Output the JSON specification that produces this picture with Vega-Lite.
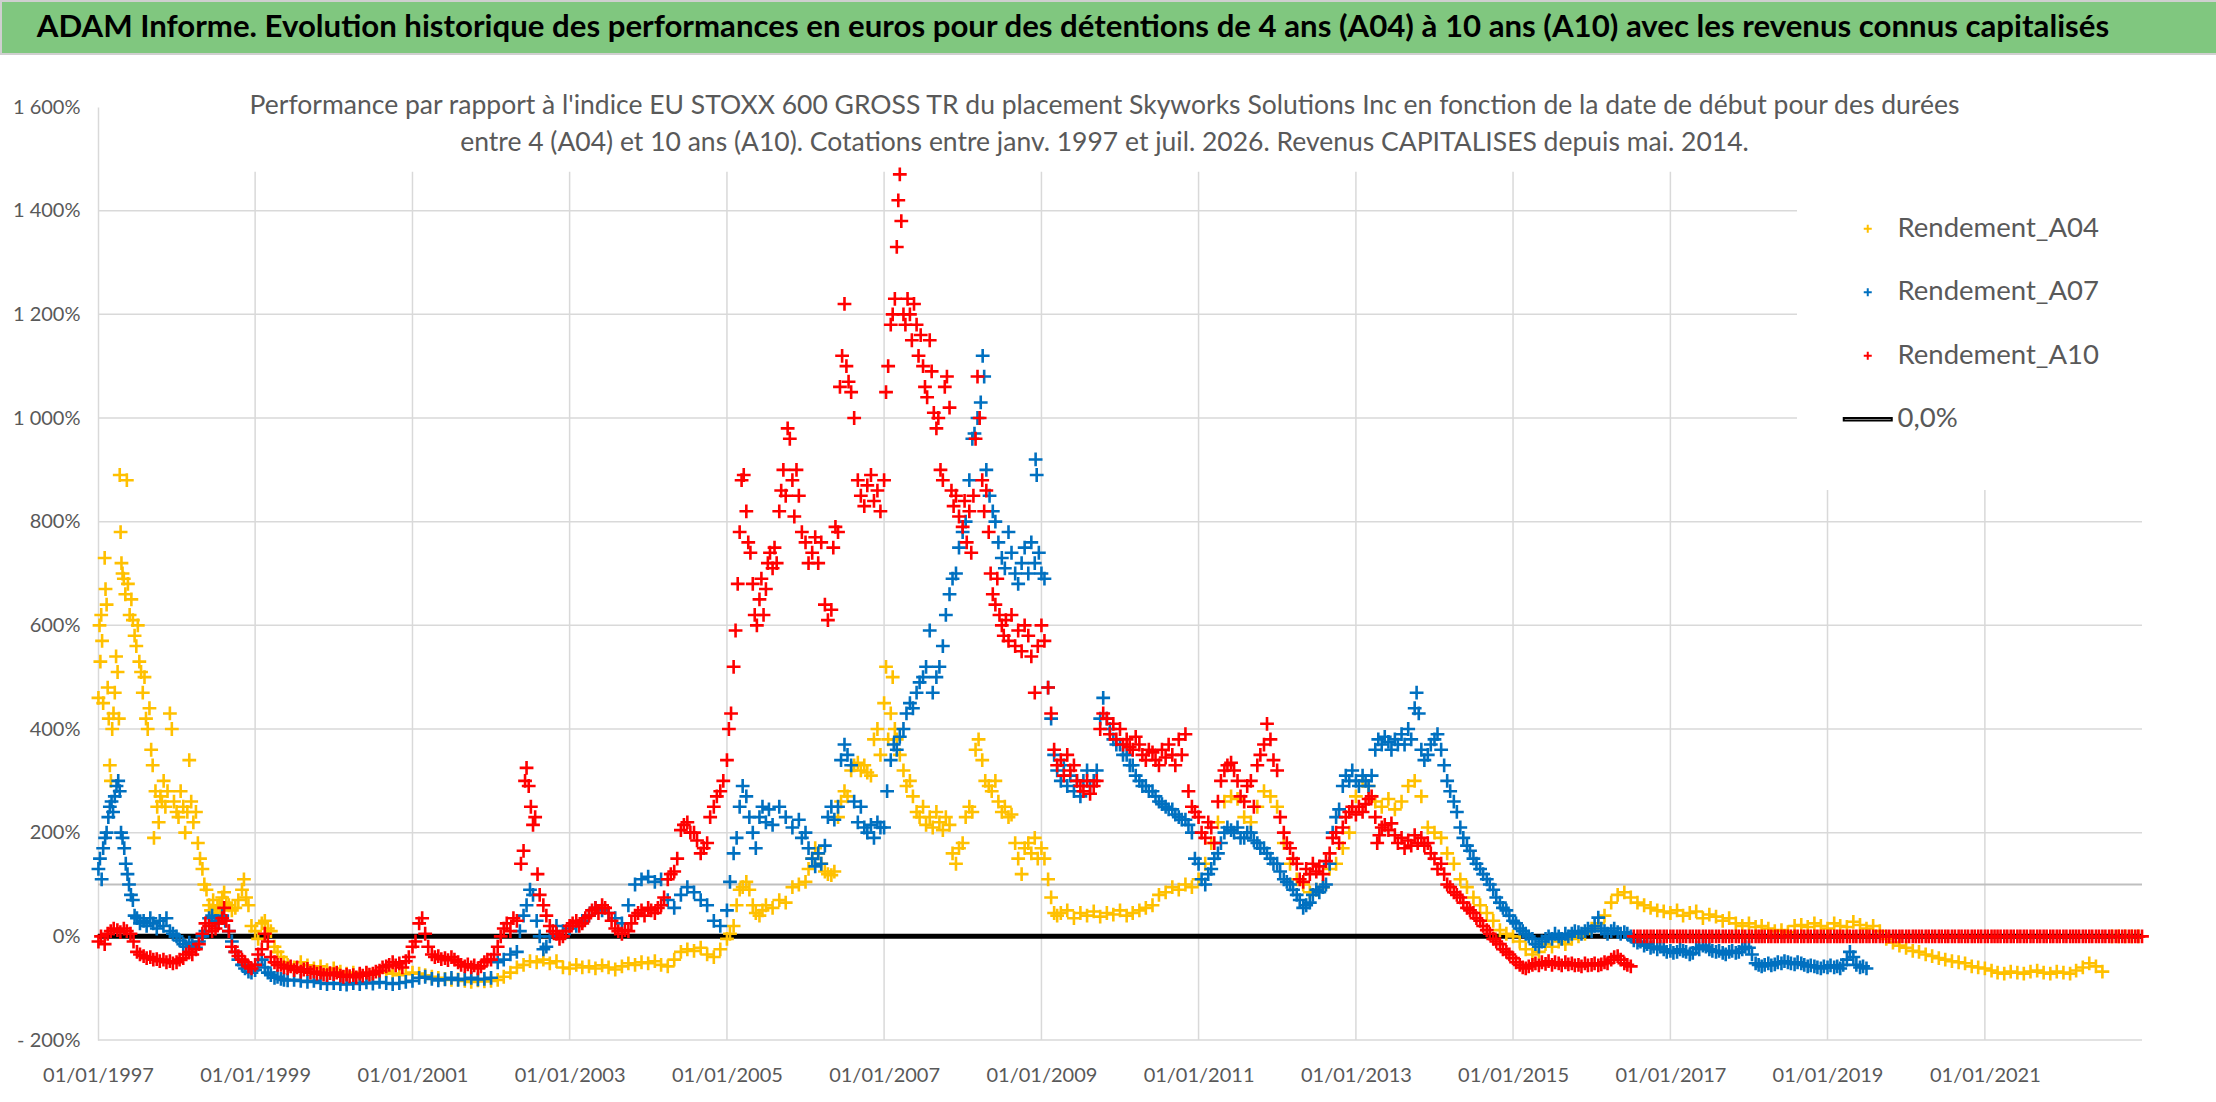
{
"$schema":"https://vega.github.io/schema/vega-lite/v6.json",
"padding":0,
"background":"#FFFFFF",
"config":{"view":{"stroke":null},"font":"Lato"},
"datasets":{
"hg":[{"y":-200},{"y":0},{"y":200},{"y":400},{"y":600},{"y":800},{"y":1000},{"y":1200},{"y":1400}],
"vg":[{"g":"1999-01-01"},{"g":"2001-01-01"},{"g":"2003-01-01"},{"g":"2005-01-01"},{"g":"2007-01-01"},{"g":"2009-01-01"},{"g":"2011-01-01"},{"g":"2013-01-01"},{"g":"2015-01-01"},{"g":"2017-01-01"},{"g":"2019-01-01"},{"g":"2021-01-01"}],
"a04":[
{"d":"1997-01-03","v":460},{"d":"1997-01-08","v":600},{"d":"1997-01-12","v":530},{"d":"1997-01-16","v":620},{"d":"1997-01-20","v":570},{"d":"1997-01-25","v":450},{"d":"1997-02-01","v":730},{"d":"1997-02-05","v":670},{"d":"1997-02-10","v":640},{"d":"1997-02-15","v":480},{"d":"1997-02-20","v":420},{"d":"1997-02-25","v":330},{"d":"1997-03-02","v":300},{"d":"1997-03-08","v":400},{"d":"1997-03-14","v":430},{"d":"1997-03-20","v":470},{"d":"1997-03-26","v":540},{"d":"1997-04-02","v":510},{"d":"1997-04-08","v":420},{"d":"1997-04-12","v":890},{"d":"1997-04-16","v":780},{"d":"1997-04-20","v":720},{"d":"1997-04-25","v":700},{"d":"1997-05-01","v":690},{"d":"1997-05-08","v":660},{"d":"1997-05-15","v":880},{"d":"1997-05-20","v":680},{"d":"1997-05-28","v":620},{"d":"1997-06-05","v":650},{"d":"1997-06-12","v":610},{"d":"1997-06-20","v":580},{"d":"1997-06-28","v":560},{"d":"1997-07-05","v":600},{"d":"1997-07-12","v":530},{"d":"1997-07-20","v":510},{"d":"1997-07-28","v":470},{"d":"1997-08-05","v":500},{"d":"1997-08-12","v":420},{"d":"1997-08-20","v":400},{"d":"1997-08-28","v":440},{"d":"1997-09-05","v":360},{"d":"1997-09-12","v":330},{"d":"1997-09-18","v":190},{"d":"1997-09-25","v":280},{"d":"1997-10-03","v":250},{"d":"1997-10-10","v":220},{"d":"1997-10-18","v":270},{"d":"1997-10-25","v":260},{"d":"1997-11-02","v":300},{"d":"1997-11-10","v":250},{"d":"1997-11-20","v":280},{"d":"1997-12-01","v":430},{"d":"1997-12-10","v":400},{"d":"1997-12-20","v":260},
{"d":"1998-01-01","v":240},{"d":"1998-01-10","v":230},{"d":"1998-01-20","v":280},{"d":"1998-02-01","v":250},{"d":"1998-02-10","v":200},{"d":"1998-02-20","v":240},{"d":"1998-03-01","v":340},{"d":"1998-03-10","v":260},{"d":"1998-03-20","v":220},{"d":"1998-04-01","v":240},{"d":"1998-04-10","v":180},{"d":"1998-04-20","v":150},{"d":"1998-05-01","v":130},{"d":"1998-05-10","v":100},{"d":"1998-05-20","v":90},{"d":"1998-06-01","v":60},{"d":"1998-06-10","v":50},{"d":"1998-06-20","v":70},{"d":"1998-07-01","v":45},{"d":"1998-07-10","v":55},{"d":"1998-07-20","v":60},{"d":"1998-08-01","v":75},{"d":"1998-08-10","v":85},{"d":"1998-08-20","v":65},{"d":"1998-09-01","v":60},{"d":"1998-09-15","v":50},{"d":"1998-10-01","v":55},{"d":"1998-10-15","v":70},{"d":"1998-11-01","v":90},{"d":"1998-11-10","v":110},{"d":"1998-11-20","v":75},{"d":"1998-12-01","v":60},{"d":"1998-12-15","v":20},
{"d":"1999-01-01","v":10},{"d":"1999-01-15","v":-5},{"d":"1999-02-01","v":25},{"d":"1999-02-15","v":30},{"d":"1999-03-01","v":15},{"d":"1999-03-15","v":10},{"d":"1999-04-01","v":-20},{"d":"1999-04-15","v":-30},{"d":"1999-05-01","v":-40},{"d":"1999-05-15","v":-50},{"d":"1999-06-01","v":-55},{"d":"1999-07-01","v":-60},{"d":"1999-08-01","v":-50},{"d":"1999-09-01","v":-56},{"d":"1999-10-01","v":-62},{"d":"1999-11-01","v":-58},{"d":"1999-12-01","v":-65},
{"d":"2000-01-01","v":-62},{"d":"2000-02-01","v":-68},{"d":"2000-03-01","v":-72},{"d":"2000-04-01","v":-70},{"d":"2000-05-01","v":-75},{"d":"2000-06-01","v":-72},{"d":"2000-07-01","v":-74},{"d":"2000-08-01","v":-70},{"d":"2000-09-01","v":-68},{"d":"2000-10-01","v":-72},{"d":"2000-11-01","v":-75},{"d":"2000-12-01","v":-73},
{"d":"2001-01-01","v":-70},{"d":"2001-02-01","v":-72},{"d":"2001-03-01","v":-75},{"d":"2001-04-01","v":-78},{"d":"2001-05-01","v":-80},{"d":"2001-06-01","v":-82},{"d":"2001-07-01","v":-84},{"d":"2001-08-01","v":-83},{"d":"2001-09-01","v":-86},{"d":"2001-10-01","v":-88},{"d":"2001-11-01","v":-85},{"d":"2001-12-01","v":-87},
{"d":"2002-01-01","v":-86},{"d":"2002-02-01","v":-84},{"d":"2002-03-01","v":-78},{"d":"2002-04-01","v":-70},{"d":"2002-05-01","v":-60},{"d":"2002-06-01","v":-55},{"d":"2002-07-01","v":-48},{"d":"2002-08-01","v":-50},{"d":"2002-09-01","v":-45},{"d":"2002-10-01","v":-52},{"d":"2002-11-01","v":-48},{"d":"2002-12-01","v":-60},
{"d":"2003-01-01","v":-62},{"d":"2003-02-01","v":-55},{"d":"2003-03-01","v":-60},{"d":"2003-04-01","v":-58},{"d":"2003-05-01","v":-62},{"d":"2003-06-01","v":-56},{"d":"2003-07-01","v":-60},{"d":"2003-08-01","v":-64},{"d":"2003-09-01","v":-58},{"d":"2003-10-01","v":-52},{"d":"2003-11-01","v":-55},{"d":"2003-12-01","v":-50},
{"d":"2004-01-01","v":-52},{"d":"2004-02-01","v":-48},{"d":"2004-03-01","v":-55},{"d":"2004-04-01","v":-58},{"d":"2004-05-01","v":-45},{"d":"2004-06-01","v":-30},{"d":"2004-07-01","v":-25},{"d":"2004-08-01","v":-28},{"d":"2004-09-01","v":-22},{"d":"2004-10-01","v":-35},{"d":"2004-11-01","v":-40},{"d":"2004-12-01","v":-25},
{"d":"2005-01-01","v":-5},{"d":"2005-01-15","v":5},{"d":"2005-02-01","v":20},{"d":"2005-02-15","v":60},{"d":"2005-03-01","v":90},{"d":"2005-03-15","v":95},{"d":"2005-04-01","v":105},{"d":"2005-04-15","v":90},{"d":"2005-05-01","v":60},{"d":"2005-05-15","v":45},{"d":"2005-06-01","v":40},{"d":"2005-06-15","v":50},{"d":"2005-07-01","v":60},{"d":"2005-08-01","v":55},{"d":"2005-09-01","v":70},{"d":"2005-10-01","v":65},{"d":"2005-11-01","v":95},{"d":"2005-12-01","v":100},
{"d":"2006-01-01","v":105},{"d":"2006-01-15","v":130},{"d":"2006-02-01","v":150},{"d":"2006-02-15","v":170},{"d":"2006-03-01","v":160},{"d":"2006-03-15","v":140},{"d":"2006-04-01","v":125},{"d":"2006-04-15","v":120},{"d":"2006-05-01","v":118},{"d":"2006-05-15","v":125},{"d":"2006-06-01","v":230},{"d":"2006-06-15","v":260},{"d":"2006-07-01","v":280},{"d":"2006-07-15","v":270},{"d":"2006-08-01","v":320},{"d":"2006-08-15","v":330},{"d":"2006-09-01","v":335},{"d":"2006-09-15","v":320},{"d":"2006-10-01","v":330},{"d":"2006-10-15","v":316},{"d":"2006-11-01","v":310},{"d":"2006-11-15","v":380},{"d":"2006-12-01","v":400},{"d":"2006-12-15","v":350},
{"d":"2007-01-01","v":450},{"d":"2007-01-10","v":520},{"d":"2007-01-20","v":380},{"d":"2007-02-01","v":430},{"d":"2007-02-10","v":500},{"d":"2007-02-20","v":400},{"d":"2007-03-01","v":380},{"d":"2007-03-15","v":350},{"d":"2007-04-01","v":320},{"d":"2007-04-15","v":290},{"d":"2007-05-01","v":300},{"d":"2007-05-15","v":270},{"d":"2007-06-01","v":240},{"d":"2007-06-15","v":230},{"d":"2007-07-01","v":250},{"d":"2007-07-15","v":215},{"d":"2007-08-01","v":230},{"d":"2007-08-15","v":210},{"d":"2007-09-01","v":240},{"d":"2007-09-15","v":220},{"d":"2007-10-01","v":205},{"d":"2007-10-15","v":230},{"d":"2007-11-01","v":215},{"d":"2007-11-15","v":160},{"d":"2007-12-01","v":140},{"d":"2007-12-15","v":170},
{"d":"2008-01-01","v":180},{"d":"2008-01-15","v":230},{"d":"2008-02-01","v":250},{"d":"2008-02-15","v":240},{"d":"2008-03-01","v":360},{"d":"2008-03-15","v":380},{"d":"2008-04-01","v":340},{"d":"2008-04-15","v":300},{"d":"2008-05-01","v":290},{"d":"2008-05-15","v":280},{"d":"2008-06-01","v":300},{"d":"2008-06-15","v":260},{"d":"2008-07-01","v":240},{"d":"2008-07-15","v":250},{"d":"2008-08-01","v":230},{"d":"2008-08-15","v":235},{"d":"2008-09-01","v":180},{"d":"2008-09-15","v":150},{"d":"2008-10-01","v":120},{"d":"2008-10-15","v":170},{"d":"2008-11-01","v":180},{"d":"2008-11-15","v":160},{"d":"2008-12-01","v":190},{"d":"2008-12-15","v":150},
{"d":"2009-01-01","v":170},{"d":"2009-01-15","v":150},{"d":"2009-02-01","v":110},{"d":"2009-02-15","v":75},{"d":"2009-03-01","v":45},{"d":"2009-03-15","v":40},{"d":"2009-04-01","v":45},{"d":"2009-05-01","v":50},{"d":"2009-06-01","v":35},{"d":"2009-07-01","v":45},{"d":"2009-08-01","v":40},{"d":"2009-09-01","v":48},{"d":"2009-10-01","v":38},{"d":"2009-11-01","v":45},{"d":"2009-12-01","v":42},
{"d":"2010-01-01","v":50},{"d":"2010-02-01","v":40},{"d":"2010-03-01","v":45},{"d":"2010-04-01","v":50},{"d":"2010-05-01","v":55},{"d":"2010-06-01","v":60},{"d":"2010-07-01","v":80},{"d":"2010-08-01","v":85},{"d":"2010-09-01","v":95},{"d":"2010-10-01","v":90},{"d":"2010-11-01","v":100},{"d":"2010-12-01","v":95},
{"d":"2011-01-01","v":110},{"d":"2011-02-01","v":140},{"d":"2011-03-01","v":180},{"d":"2011-04-01","v":220},{"d":"2011-05-01","v":260},{"d":"2011-06-01","v":270},{"d":"2011-07-01","v":265},{"d":"2011-08-01","v":230},{"d":"2011-09-01","v":220},{"d":"2011-10-01","v":250},{"d":"2011-11-01","v":280},{"d":"2011-12-01","v":270},
{"d":"2012-01-01","v":250},{"d":"2012-02-01","v":180},{"d":"2012-03-01","v":140},{"d":"2012-04-01","v":110},{"d":"2012-05-01","v":100},{"d":"2012-06-01","v":85},{"d":"2012-07-01","v":90},{"d":"2012-08-01","v":95},{"d":"2012-09-01","v":130},{"d":"2012-10-01","v":140},{"d":"2012-11-01","v":170},{"d":"2012-12-01","v":200},
{"d":"2013-01-01","v":270},{"d":"2013-02-01","v":300},{"d":"2013-03-01","v":290},{"d":"2013-04-01","v":260},{"d":"2013-05-01","v":250},{"d":"2013-06-01","v":265},{"d":"2013-07-01","v":245},{"d":"2013-08-01","v":260},{"d":"2013-09-01","v":290},{"d":"2013-10-01","v":300},{"d":"2013-11-01","v":270},{"d":"2013-12-01","v":210},
{"d":"2014-01-01","v":200},{"d":"2014-02-01","v":190},{"d":"2014-03-01","v":160},{"d":"2014-04-01","v":140},{"d":"2014-05-01","v":110},{"d":"2014-06-01","v":95},{"d":"2014-07-01","v":75},{"d":"2014-08-01","v":60},{"d":"2014-09-01","v":45},{"d":"2014-10-01","v":30},{"d":"2014-11-01","v":12},{"d":"2014-12-01","v":5},
{"d":"2015-01-01","v":0},{"d":"2015-02-01","v":-10},{"d":"2015-03-01","v":-25},{"d":"2015-04-01","v":-35},{"d":"2015-05-01","v":-30},{"d":"2015-06-01","v":-15},{"d":"2015-07-01","v":-20},{"d":"2015-08-01","v":-10},{"d":"2015-09-01","v":-15},{"d":"2015-10-01","v":-5},{"d":"2015-11-01","v":0},{"d":"2015-12-01","v":5},
{"d":"2016-01-01","v":15},{"d":"2016-02-01","v":25},{"d":"2016-03-01","v":40},{"d":"2016-04-01","v":65},{"d":"2016-05-01","v":80},{"d":"2016-06-01","v":85},{"d":"2016-07-01","v":75},{"d":"2016-08-01","v":65},{"d":"2016-09-01","v":60},{"d":"2016-10-01","v":55},{"d":"2016-11-01","v":50},{"d":"2016-12-01","v":48},
{"d":"2017-01-01","v":45},{"d":"2017-02-01","v":50},{"d":"2017-03-01","v":40},{"d":"2017-04-01","v":45},{"d":"2017-05-01","v":48},{"d":"2017-06-01","v":35},{"d":"2017-07-01","v":42},{"d":"2017-08-01","v":38},{"d":"2017-09-01","v":30},{"d":"2017-10-01","v":35},{"d":"2017-11-01","v":25},{"d":"2017-12-01","v":20},
{"d":"2018-01-01","v":25},{"d":"2018-02-01","v":18},{"d":"2018-03-01","v":20},{"d":"2018-04-01","v":15},{"d":"2018-05-01","v":10},{"d":"2018-06-01","v":12},{"d":"2018-07-01","v":8},{"d":"2018-08-01","v":20},{"d":"2018-09-01","v":22},{"d":"2018-10-01","v":18},{"d":"2018-11-01","v":25},{"d":"2018-12-01","v":20},
{"d":"2019-01-01","v":15},{"d":"2019-02-01","v":25},{"d":"2019-03-01","v":20},{"d":"2019-04-01","v":18},{"d":"2019-05-01","v":28},{"d":"2019-06-01","v":22},{"d":"2019-07-01","v":15},{"d":"2019-08-01","v":20},{"d":"2019-09-01","v":10},{"d":"2019-10-01","v":-5},{"d":"2019-11-01","v":-12},{"d":"2019-12-01","v":-18},
{"d":"2020-01-01","v":-22},{"d":"2020-02-01","v":-28},{"d":"2020-03-01","v":-30},{"d":"2020-04-01","v":-35},{"d":"2020-05-01","v":-38},{"d":"2020-06-01","v":-42},{"d":"2020-07-01","v":-45},{"d":"2020-08-01","v":-48},{"d":"2020-09-01","v":-50},{"d":"2020-10-01","v":-52},{"d":"2020-11-01","v":-58},{"d":"2020-12-01","v":-60},
{"d":"2021-01-01","v":-62},{"d":"2021-02-01","v":-66},{"d":"2021-03-01","v":-70},{"d":"2021-04-01","v":-72},{"d":"2021-05-01","v":-68},{"d":"2021-06-01","v":-70},{"d":"2021-07-01","v":-72},{"d":"2021-08-01","v":-68},{"d":"2021-09-01","v":-66},{"d":"2021-10-01","v":-70},{"d":"2021-11-01","v":-72},{"d":"2021-12-01","v":-68},
{"d":"2022-01-01","v":-70},{"d":"2022-02-01","v":-72},{"d":"2022-03-01","v":-66},{"d":"2022-04-01","v":-60},{"d":"2022-05-01","v":-52},{"d":"2022-06-01","v":-58},{"d":"2022-07-01","v":-68},
{"d":"2022-08-15","v":0},{"d":"2022-09-15","v":0},{"d":"2022-10-15","v":0},{"d":"2022-11-15","v":0},{"d":"2022-12-15","v":0}
],
"a07":[
{"d":"1997-01-03","v":130},{"d":"1997-01-10","v":150},{"d":"1997-01-18","v":110},{"d":"1997-01-25","v":170},{"d":"1997-02-03","v":190},{"d":"1997-02-10","v":200},{"d":"1997-02-18","v":230},{"d":"1997-02-25","v":250},{"d":"1997-03-05","v":260},{"d":"1997-03-12","v":240},{"d":"1997-03-20","v":270},{"d":"1997-03-28","v":290},{"d":"1997-04-05","v":300},{"d":"1997-04-12","v":280},{"d":"1997-04-18","v":200},{"d":"1997-04-25","v":190},{"d":"1997-05-03","v":170},{"d":"1997-05-10","v":140},{"d":"1997-05-18","v":120},{"d":"1997-05-25","v":100},{"d":"1997-06-03","v":80},{"d":"1997-06-12","v":70},{"d":"1997-06-20","v":40},{"d":"1997-07-01","v":35},{"d":"1997-07-15","v":25},{"d":"1997-08-01","v":30},{"d":"1997-08-15","v":20},{"d":"1997-09-01","v":35},{"d":"1997-09-15","v":25},{"d":"1997-10-01","v":15},{"d":"1997-10-15","v":30},{"d":"1997-11-01","v":20},{"d":"1997-11-15","v":35},{"d":"1997-12-01","v":10},{"d":"1997-12-15","v":5},
{"d":"1998-01-01","v":0},{"d":"1998-01-15","v":-8},{"d":"1998-02-01","v":-15},{"d":"1998-02-15","v":-20},{"d":"1998-03-01","v":-12},{"d":"1998-03-15","v":-18},{"d":"1998-04-01","v":-22},{"d":"1998-04-15","v":-10},{"d":"1998-05-01","v":0},{"d":"1998-05-15","v":10},{"d":"1998-06-01","v":35},{"d":"1998-06-15","v":40},{"d":"1998-07-01","v":30},{"d":"1998-07-15","v":25},{"d":"1998-08-01","v":40},{"d":"1998-08-15","v":30},{"d":"1998-09-01","v":10},{"d":"1998-09-15","v":-10},{"d":"1998-10-01","v":-30},{"d":"1998-10-15","v":-45},{"d":"1998-11-01","v":-55},{"d":"1998-11-15","v":-62},{"d":"1998-12-01","v":-68},{"d":"1998-12-15","v":-70},
{"d":"1999-01-01","v":-65},{"d":"1999-01-15","v":-55},{"d":"1999-02-01","v":-45},{"d":"1999-02-15","v":-60},{"d":"1999-03-01","v":-70},{"d":"1999-03-15","v":-75},{"d":"1999-04-01","v":-80},{"d":"1999-04-15","v":-78},{"d":"1999-05-01","v":-82},{"d":"1999-05-15","v":-84},{"d":"1999-06-01","v":-85},{"d":"1999-07-01","v":-84},{"d":"1999-08-01","v":-86},{"d":"1999-09-01","v":-88},{"d":"1999-10-01","v":-86},{"d":"1999-11-01","v":-90},{"d":"1999-12-01","v":-92},
{"d":"2000-01-01","v":-90},{"d":"2000-02-01","v":-92},{"d":"2000-03-01","v":-93},{"d":"2000-04-01","v":-90},{"d":"2000-05-01","v":-92},{"d":"2000-06-01","v":-89},{"d":"2000-07-01","v":-91},{"d":"2000-08-01","v":-88},{"d":"2000-09-01","v":-90},{"d":"2000-10-01","v":-92},{"d":"2000-11-01","v":-90},{"d":"2000-12-01","v":-88},
{"d":"2001-01-01","v":-86},{"d":"2001-02-01","v":-80},{"d":"2001-03-01","v":-78},{"d":"2001-04-01","v":-82},{"d":"2001-05-01","v":-85},{"d":"2001-06-01","v":-83},{"d":"2001-07-01","v":-80},{"d":"2001-08-01","v":-84},{"d":"2001-09-01","v":-82},{"d":"2001-10-01","v":-80},{"d":"2001-11-01","v":-83},{"d":"2001-12-01","v":-82},
{"d":"2002-01-01","v":-80},{"d":"2002-02-01","v":-50},{"d":"2002-03-01","v":-45},{"d":"2002-04-01","v":-35},{"d":"2002-05-01","v":-30},{"d":"2002-05-15","v":10},{"d":"2002-06-01","v":40},{"d":"2002-06-15","v":60},{"d":"2002-07-01","v":90},{"d":"2002-07-15","v":80},{"d":"2002-08-01","v":30},{"d":"2002-08-15","v":0},{"d":"2002-09-01","v":-25},{"d":"2002-09-15","v":-20},{"d":"2002-10-01","v":0},{"d":"2002-11-01","v":20},{"d":"2002-12-01","v":10},
{"d":"2003-01-01","v":15},{"d":"2003-02-01","v":20},{"d":"2003-03-01","v":30},{"d":"2003-04-01","v":40},{"d":"2003-05-01","v":55},{"d":"2003-06-01","v":50},{"d":"2003-07-01","v":45},{"d":"2003-08-01","v":35},{"d":"2003-09-01","v":25},{"d":"2003-10-01","v":60},{"d":"2003-11-01","v":100},{"d":"2003-12-01","v":110},
{"d":"2004-01-01","v":115},{"d":"2004-02-01","v":105},{"d":"2004-03-01","v":110},{"d":"2004-04-01","v":70},{"d":"2004-05-01","v":55},{"d":"2004-06-01","v":80},{"d":"2004-07-01","v":95},{"d":"2004-08-01","v":85},{"d":"2004-09-01","v":70},{"d":"2004-10-01","v":60},{"d":"2004-11-01","v":30},{"d":"2004-12-01","v":20},
{"d":"2005-01-01","v":50},{"d":"2005-01-15","v":105},{"d":"2005-02-01","v":160},{"d":"2005-02-15","v":190},{"d":"2005-03-01","v":250},{"d":"2005-03-15","v":290},{"d":"2005-04-01","v":270},{"d":"2005-04-15","v":230},{"d":"2005-05-01","v":200},{"d":"2005-05-15","v":170},{"d":"2005-06-01","v":230},{"d":"2005-06-15","v":250},{"d":"2005-07-01","v":220},{"d":"2005-07-15","v":245},{"d":"2005-08-01","v":215},{"d":"2005-09-01","v":250},{"d":"2005-10-01","v":230},{"d":"2005-11-01","v":210},{"d":"2005-12-01","v":225},{"d":"2005-12-15","v":190},
{"d":"2006-01-01","v":200},{"d":"2006-01-15","v":170},{"d":"2006-02-01","v":150},{"d":"2006-02-15","v":135},{"d":"2006-03-01","v":160},{"d":"2006-03-15","v":140},{"d":"2006-04-01","v":175},{"d":"2006-04-15","v":230},{"d":"2006-05-01","v":250},{"d":"2006-05-15","v":225},{"d":"2006-06-01","v":250},{"d":"2006-06-15","v":340},{"d":"2006-07-01","v":370},{"d":"2006-07-15","v":350},{"d":"2006-08-01","v":330},{"d":"2006-08-15","v":260},{"d":"2006-09-01","v":220},{"d":"2006-09-15","v":250},{"d":"2006-10-01","v":210},{"d":"2006-10-15","v":200},{"d":"2006-11-01","v":215},{"d":"2006-11-15","v":190},{"d":"2006-12-01","v":220},{"d":"2006-12-15","v":210},
{"d":"2007-01-01","v":210},{"d":"2007-01-15","v":280},{"d":"2007-02-01","v":340},{"d":"2007-02-15","v":370},{"d":"2007-03-01","v":360},{"d":"2007-03-15","v":385},{"d":"2007-04-01","v":400},{"d":"2007-04-15","v":430},{"d":"2007-05-01","v":450},{"d":"2007-05-15","v":440},{"d":"2007-06-01","v":470},{"d":"2007-06-15","v":490},{"d":"2007-07-01","v":500},{"d":"2007-07-15","v":520},{"d":"2007-08-01","v":590},{"d":"2007-08-15","v":470},{"d":"2007-09-01","v":500},{"d":"2007-09-15","v":520},{"d":"2007-10-01","v":560},{"d":"2007-10-15","v":620},{"d":"2007-11-01","v":660},{"d":"2007-11-15","v":690},{"d":"2007-12-01","v":700},{"d":"2007-12-15","v":750},
{"d":"2008-01-01","v":780},{"d":"2008-01-15","v":800},{"d":"2008-02-01","v":880},{"d":"2008-02-15","v":960},{"d":"2008-02-25","v":970},{"d":"2008-03-10","v":1000},{"d":"2008-03-25","v":1030},{"d":"2008-04-03","v":1120},{"d":"2008-04-10","v":1080},{"d":"2008-04-20","v":900},{"d":"2008-05-05","v":850},{"d":"2008-05-20","v":820},{"d":"2008-06-01","v":800},{"d":"2008-06-15","v":760},{"d":"2008-07-01","v":730},{"d":"2008-07-15","v":710},{"d":"2008-08-01","v":780},{"d":"2008-08-15","v":740},{"d":"2008-09-01","v":700},{"d":"2008-09-15","v":680},{"d":"2008-10-01","v":720},{"d":"2008-10-15","v":750},{"d":"2008-11-01","v":700},{"d":"2008-11-15","v":760},{"d":"2008-12-01","v":720},{"d":"2008-12-05","v":920},{"d":"2008-12-10","v":890},{"d":"2008-12-20","v":740},
{"d":"2009-01-01","v":700},{"d":"2009-01-15","v":690},{"d":"2009-02-01","v":480},{"d":"2009-02-15","v":420},{"d":"2009-03-01","v":350},{"d":"2009-03-15","v":320},{"d":"2009-04-01","v":300},{"d":"2009-04-15","v":330},{"d":"2009-05-01","v":290},{"d":"2009-05-15","v":310},{"d":"2009-06-01","v":280},{"d":"2009-06-15","v":300},{"d":"2009-07-01","v":270},{"d":"2009-07-15","v":300},{"d":"2009-08-01","v":320},{"d":"2009-08-15","v":290},{"d":"2009-09-01","v":300},{"d":"2009-09-15","v":320},{"d":"2009-10-01","v":420},{"d":"2009-10-15","v":460},{"d":"2009-11-01","v":420},{"d":"2009-11-15","v":400},{"d":"2009-12-01","v":380},{"d":"2009-12-15","v":370},
{"d":"2010-01-01","v":370},{"d":"2010-01-15","v":350},{"d":"2010-02-01","v":350},{"d":"2010-02-15","v":330},{"d":"2010-03-01","v":330},{"d":"2010-03-15","v":310},{"d":"2010-04-01","v":300},{"d":"2010-04-15","v":290},{"d":"2010-05-01","v":290},{"d":"2010-05-15","v":280},{"d":"2010-06-01","v":280},{"d":"2010-06-15","v":270},{"d":"2010-07-01","v":260},{"d":"2010-07-15","v":255},{"d":"2010-08-01","v":250},{"d":"2010-08-15","v":245},{"d":"2010-09-01","v":245},{"d":"2010-09-15","v":235},{"d":"2010-10-01","v":230},{"d":"2010-10-15","v":225},{"d":"2010-11-01","v":225},{"d":"2010-11-15","v":215},{"d":"2010-12-01","v":200},{"d":"2010-12-15","v":150},
{"d":"2011-01-01","v":140},{"d":"2011-01-15","v":110},{"d":"2011-02-01","v":100},{"d":"2011-02-15","v":120},{"d":"2011-03-01","v":130},{"d":"2011-03-15","v":150},{"d":"2011-04-01","v":160},{"d":"2011-04-15","v":180},{"d":"2011-05-01","v":200},{"d":"2011-05-15","v":210},{"d":"2011-06-01","v":205},{"d":"2011-06-15","v":200},{"d":"2011-07-01","v":210},{"d":"2011-07-15","v":190},{"d":"2011-08-01","v":190},{"d":"2011-08-15","v":200},{"d":"2011-09-01","v":200},{"d":"2011-09-15","v":185},{"d":"2011-10-01","v":180},{"d":"2011-10-15","v":170},{"d":"2011-11-01","v":170},{"d":"2011-11-15","v":160},{"d":"2011-12-01","v":150},{"d":"2011-12-15","v":140},
{"d":"2012-01-01","v":140},{"d":"2012-01-15","v":125},{"d":"2012-02-01","v":110},{"d":"2012-02-15","v":105},{"d":"2012-03-01","v":100},{"d":"2012-03-15","v":90},{"d":"2012-04-01","v":80},{"d":"2012-04-15","v":70},{"d":"2012-05-01","v":55},{"d":"2012-05-15","v":60},{"d":"2012-06-01","v":65},{"d":"2012-06-15","v":80},{"d":"2012-07-01","v":90},{"d":"2012-07-15","v":85},{"d":"2012-08-01","v":95},{"d":"2012-08-15","v":100},{"d":"2012-09-01","v":140},{"d":"2012-09-15","v":200},{"d":"2012-10-01","v":230},{"d":"2012-10-15","v":245},{"d":"2012-11-01","v":290},{"d":"2012-11-15","v":310},{"d":"2012-12-01","v":300},{"d":"2012-12-15","v":320},
{"d":"2013-01-01","v":300},{"d":"2013-01-15","v":290},{"d":"2013-02-01","v":310},{"d":"2013-02-15","v":300},{"d":"2013-03-01","v":290},{"d":"2013-03-15","v":310},{"d":"2013-04-01","v":360},{"d":"2013-04-15","v":380},{"d":"2013-05-01","v":370},{"d":"2013-05-15","v":385},{"d":"2013-06-01","v":375},{"d":"2013-06-15","v":360},{"d":"2013-07-01","v":380},{"d":"2013-07-15","v":370},{"d":"2013-08-01","v":390},{"d":"2013-08-15","v":370},{"d":"2013-09-01","v":400},{"d":"2013-09-15","v":380},{"d":"2013-10-01","v":440},{"d":"2013-10-10","v":470},{"d":"2013-10-20","v":430},{"d":"2013-11-01","v":360},{"d":"2013-11-15","v":340},{"d":"2013-12-01","v":350},{"d":"2013-12-15","v":370},
{"d":"2014-01-01","v":380},{"d":"2014-01-15","v":390},{"d":"2014-02-01","v":360},{"d":"2014-02-15","v":330},{"d":"2014-03-01","v":300},{"d":"2014-03-15","v":280},{"d":"2014-04-01","v":260},{"d":"2014-04-15","v":240},{"d":"2014-05-01","v":210},{"d":"2014-05-15","v":190},{"d":"2014-06-01","v":175},{"d":"2014-06-15","v":165},{"d":"2014-07-01","v":150},{"d":"2014-07-15","v":140},{"d":"2014-08-01","v":130},{"d":"2014-08-15","v":120},{"d":"2014-09-01","v":110},{"d":"2014-09-15","v":100},{"d":"2014-10-01","v":90},{"d":"2014-10-15","v":75},{"d":"2014-11-01","v":65},{"d":"2014-11-15","v":55},{"d":"2014-12-01","v":50},{"d":"2014-12-15","v":40},
{"d":"2015-01-01","v":30},{"d":"2015-01-15","v":25},{"d":"2015-02-01","v":15},{"d":"2015-02-15","v":10},{"d":"2015-03-01","v":5},{"d":"2015-03-15","v":0},{"d":"2015-04-01","v":-5},{"d":"2015-04-15","v":-15},{"d":"2015-05-01","v":-20},{"d":"2015-05-15","v":-10},{"d":"2015-06-01","v":-5},{"d":"2015-06-15","v":0},{"d":"2015-07-01","v":-5},{"d":"2015-07-15","v":5},{"d":"2015-08-01","v":0},{"d":"2015-08-15","v":-5},{"d":"2015-09-01","v":5},{"d":"2015-09-15","v":0},{"d":"2015-10-01","v":5},{"d":"2015-10-15","v":10},{"d":"2015-11-01","v":8},{"d":"2015-11-15","v":5},{"d":"2015-12-01","v":10},{"d":"2015-12-15","v":15},
{"d":"2016-01-01","v":10},{"d":"2016-01-15","v":20},{"d":"2016-02-01","v":36},{"d":"2016-02-15","v":15},{"d":"2016-03-01","v":10},{"d":"2016-03-15","v":5},{"d":"2016-04-01","v":10},{"d":"2016-04-15","v":15},{"d":"2016-05-01","v":8},{"d":"2016-05-15","v":5},{"d":"2016-06-01","v":8},{"d":"2016-06-15","v":5},{"d":"2016-07-01","v":0},{"d":"2016-07-15","v":-8},{"d":"2016-08-01","v":-12},{"d":"2016-08-15","v":-10},{"d":"2016-09-01","v":-18},{"d":"2016-09-15","v":-15},{"d":"2016-10-01","v":-22},{"d":"2016-10-15","v":-20},{"d":"2016-11-01","v":-25},{"d":"2016-11-15","v":-20},{"d":"2016-12-01","v":-25},{"d":"2016-12-15","v":-30},
{"d":"2017-01-01","v":-28},{"d":"2017-01-15","v":-32},{"d":"2017-02-01","v":-30},{"d":"2017-02-15","v":-25},{"d":"2017-03-01","v":-28},{"d":"2017-03-15","v":-30},{"d":"2017-04-01","v":-35},{"d":"2017-04-15","v":-32},{"d":"2017-05-01","v":-22},{"d":"2017-05-15","v":-25},{"d":"2017-06-01","v":-18},{"d":"2017-06-15","v":-20},{"d":"2017-07-01","v":-25},{"d":"2017-07-15","v":-28},{"d":"2017-08-01","v":-30},{"d":"2017-08-15","v":-28},{"d":"2017-09-01","v":-32},{"d":"2017-09-15","v":-35},{"d":"2017-10-01","v":-30},{"d":"2017-10-15","v":-28},{"d":"2017-11-01","v":-32},{"d":"2017-11-15","v":-30},{"d":"2017-12-01","v":-25},{"d":"2017-12-15","v":-20},
{"d":"2018-01-01","v":-22},{"d":"2018-01-15","v":-35},{"d":"2018-02-01","v":-52},{"d":"2018-02-15","v":-55},{"d":"2018-03-01","v":-58},{"d":"2018-03-15","v":-55},{"d":"2018-04-01","v":-52},{"d":"2018-04-15","v":-56},{"d":"2018-05-01","v":-54},{"d":"2018-05-15","v":-50},{"d":"2018-06-01","v":-52},{"d":"2018-06-15","v":-48},{"d":"2018-07-01","v":-50},{"d":"2018-07-15","v":-52},{"d":"2018-08-01","v":-54},{"d":"2018-08-15","v":-50},{"d":"2018-09-01","v":-52},{"d":"2018-09-15","v":-55},{"d":"2018-10-01","v":-58},{"d":"2018-10-15","v":-56},{"d":"2018-11-01","v":-58},{"d":"2018-11-15","v":-60},{"d":"2018-12-01","v":-62},{"d":"2018-12-15","v":-58},
{"d":"2019-01-01","v":-60},{"d":"2019-01-15","v":-56},{"d":"2019-02-01","v":-60},{"d":"2019-02-15","v":-58},{"d":"2019-03-01","v":-62},{"d":"2019-03-15","v":-55},{"d":"2019-04-01","v":-45},{"d":"2019-04-15","v":-30},{"d":"2019-05-01","v":-40},{"d":"2019-05-15","v":-55},{"d":"2019-06-01","v":-60},{"d":"2019-06-15","v":-58},{"d":"2019-07-01","v":-62}
],
"a10":[
{"d":"1997-01-03","v":-10},{"d":"1997-01-15","v":0},{"d":"1997-02-01","v":-15},{"d":"1997-02-15","v":5},{"d":"1997-03-01","v":10},{"d":"1997-03-15","v":15},{"d":"1997-04-01","v":12},{"d":"1997-04-15","v":8},{"d":"1997-05-01","v":15},{"d":"1997-05-15","v":10},{"d":"1997-06-01","v":5},{"d":"1997-06-15","v":-10},{"d":"1997-07-01","v":-30},{"d":"1997-07-15","v":-35},{"d":"1997-08-01","v":-38},{"d":"1997-08-15","v":-42},{"d":"1997-09-01","v":-40},{"d":"1997-09-15","v":-45},{"d":"1997-10-01","v":-44},{"d":"1997-10-15","v":-48},{"d":"1997-11-01","v":-45},{"d":"1997-11-15","v":-50},{"d":"1997-12-01","v":-48},{"d":"1997-12-15","v":-52},
{"d":"1998-01-01","v":-50},{"d":"1998-01-15","v":-45},{"d":"1998-02-01","v":-42},{"d":"1998-02-15","v":-35},{"d":"1998-03-01","v":-30},{"d":"1998-03-15","v":-35},{"d":"1998-04-01","v":-25},{"d":"1998-04-15","v":-15},{"d":"1998-05-01","v":5},{"d":"1998-05-15","v":25},{"d":"1998-06-01","v":20},{"d":"1998-06-15","v":10},{"d":"1998-07-01","v":15},{"d":"1998-07-15","v":25},{"d":"1998-08-01","v":35},{"d":"1998-08-10","v":55},{"d":"1998-08-20","v":30},{"d":"1998-09-01","v":10},{"d":"1998-09-15","v":-20},{"d":"1998-10-01","v":-30},{"d":"1998-10-15","v":-38},{"d":"1998-11-01","v":-45},{"d":"1998-11-15","v":-50},{"d":"1998-12-01","v":-58},{"d":"1998-12-15","v":-62},
{"d":"1999-01-01","v":-55},{"d":"1999-01-15","v":-35},{"d":"1999-02-01","v":-25},{"d":"1999-02-15","v":5},{"d":"1999-03-01","v":-10},{"d":"1999-03-15","v":-40},{"d":"1999-04-01","v":-50},{"d":"1999-04-15","v":-55},{"d":"1999-05-01","v":-55},{"d":"1999-05-15","v":-60},{"d":"1999-06-01","v":-62},{"d":"1999-06-15","v":-58},{"d":"1999-07-01","v":-65},{"d":"1999-07-15","v":-60},{"d":"1999-08-01","v":-68},{"d":"1999-08-15","v":-64},{"d":"1999-09-01","v":-63},{"d":"1999-09-15","v":-70},{"d":"1999-10-01","v":-68},{"d":"1999-10-15","v":-72},{"d":"1999-11-01","v":-70},{"d":"1999-11-15","v":-74},{"d":"1999-12-01","v":-75},{"d":"1999-12-15","v":-71},
{"d":"2000-01-01","v":-73},{"d":"2000-01-15","v":-70},{"d":"2000-02-01","v":-76},{"d":"2000-02-15","v":-78},{"d":"2000-03-01","v":-74},{"d":"2000-03-15","v":-77},{"d":"2000-04-01","v":-75},{"d":"2000-04-15","v":-79},{"d":"2000-05-01","v":-72},{"d":"2000-05-15","v":-76},{"d":"2000-06-01","v":-70},{"d":"2000-06-15","v":-74},{"d":"2000-07-01","v":-72},{"d":"2000-07-15","v":-68},{"d":"2000-08-01","v":-66},{"d":"2000-08-15","v":-60},{"d":"2000-09-01","v":-58},{"d":"2000-09-15","v":-55},{"d":"2000-10-01","v":-50},{"d":"2000-10-15","v":-56},{"d":"2000-11-01","v":-52},{"d":"2000-11-15","v":-60},{"d":"2000-12-01","v":-48},{"d":"2000-12-15","v":-40},
{"d":"2001-01-01","v":-20},{"d":"2001-01-15","v":-10},{"d":"2001-02-01","v":25},{"d":"2001-02-15","v":35},{"d":"2001-03-01","v":5},{"d":"2001-03-15","v":-20},{"d":"2001-04-01","v":-35},{"d":"2001-04-15","v":-40},{"d":"2001-05-01","v":-38},{"d":"2001-05-15","v":-44},{"d":"2001-06-01","v":-42},{"d":"2001-06-15","v":-46},{"d":"2001-07-01","v":-40},{"d":"2001-07-15","v":-45},{"d":"2001-08-01","v":-50},{"d":"2001-08-15","v":-55},{"d":"2001-09-01","v":-58},{"d":"2001-09-15","v":-54},{"d":"2001-10-01","v":-60},{"d":"2001-10-15","v":-56},{"d":"2001-11-01","v":-62},{"d":"2001-11-15","v":-58},{"d":"2001-12-01","v":-50},{"d":"2001-12-15","v":-45},
{"d":"2002-01-01","v":-45},{"d":"2002-01-15","v":-35},{"d":"2002-02-01","v":-20},{"d":"2002-02-15","v":0},{"d":"2002-03-01","v":15},{"d":"2002-03-15","v":25},{"d":"2002-04-01","v":10},{"d":"2002-04-15","v":35},{"d":"2002-05-01","v":30},{"d":"2002-05-20","v":140},{"d":"2002-06-01","v":165},{"d":"2002-06-08","v":300},{"d":"2002-06-15","v":325},{"d":"2002-06-25","v":290},{"d":"2002-07-05","v":250},{"d":"2002-07-15","v":215},{"d":"2002-07-25","v":230},{"d":"2002-08-05","v":120},{"d":"2002-08-15","v":80},{"d":"2002-09-01","v":60},{"d":"2002-09-15","v":40},{"d":"2002-10-01","v":20},{"d":"2002-10-15","v":10},{"d":"2002-11-01","v":5},{"d":"2002-11-15","v":-5},{"d":"2002-12-01","v":0},{"d":"2002-12-15","v":10},
{"d":"2003-01-01","v":20},{"d":"2003-01-15","v":25},{"d":"2003-02-01","v":30},{"d":"2003-02-15","v":20},{"d":"2003-03-01","v":25},{"d":"2003-03-15","v":35},{"d":"2003-04-01","v":40},{"d":"2003-04-15","v":50},{"d":"2003-05-01","v":55},{"d":"2003-05-15","v":45},{"d":"2003-06-01","v":60},{"d":"2003-06-15","v":55},{"d":"2003-07-01","v":45},{"d":"2003-07-15","v":30},{"d":"2003-08-01","v":15},{"d":"2003-08-15","v":10},{"d":"2003-09-01","v":5},{"d":"2003-09-15","v":12},{"d":"2003-10-01","v":10},{"d":"2003-10-15","v":25},{"d":"2003-11-01","v":40},{"d":"2003-11-15","v":45},{"d":"2003-12-01","v":50},{"d":"2003-12-15","v":40},
{"d":"2004-01-01","v":55},{"d":"2004-01-15","v":50},{"d":"2004-02-01","v":45},{"d":"2004-02-15","v":55},{"d":"2004-03-01","v":60},{"d":"2004-03-15","v":75},{"d":"2004-04-01","v":110},{"d":"2004-04-15","v":120},{"d":"2004-05-01","v":125},{"d":"2004-05-15","v":150},{"d":"2004-06-01","v":205},{"d":"2004-06-15","v":215},{"d":"2004-07-01","v":220},{"d":"2004-07-15","v":200},{"d":"2004-08-01","v":200},{"d":"2004-08-15","v":185},{"d":"2004-09-01","v":160},{"d":"2004-09-15","v":170},{"d":"2004-10-01","v":180},{"d":"2004-10-15","v":230},{"d":"2004-11-01","v":250},{"d":"2004-11-15","v":270},{"d":"2004-12-01","v":280},{"d":"2004-12-15","v":300},
{"d":"2005-01-01","v":340},{"d":"2005-01-10","v":400},{"d":"2005-01-20","v":430},{"d":"2005-02-01","v":520},{"d":"2005-02-10","v":590},{"d":"2005-02-20","v":680},{"d":"2005-03-01","v":780},{"d":"2005-03-10","v":880},{"d":"2005-03-20","v":890},{"d":"2005-04-01","v":820},{"d":"2005-04-10","v":760},{"d":"2005-04-20","v":740},{"d":"2005-05-01","v":680},{"d":"2005-05-10","v":620},{"d":"2005-05-20","v":600},{"d":"2005-06-01","v":650},{"d":"2005-06-10","v":690},{"d":"2005-06-20","v":620},{"d":"2005-07-01","v":670},{"d":"2005-07-10","v":720},{"d":"2005-07-20","v":740},{"d":"2005-08-01","v":710},{"d":"2005-08-10","v":750},{"d":"2005-08-20","v":720},{"d":"2005-09-01","v":820},{"d":"2005-09-10","v":860},{"d":"2005-09-20","v":900},{"d":"2005-10-01","v":850},{"d":"2005-10-10","v":980},{"d":"2005-10-20","v":960},{"d":"2005-11-01","v":880},{"d":"2005-11-10","v":810},{"d":"2005-11-20","v":900},{"d":"2005-12-01","v":850},{"d":"2005-12-15","v":780},
{"d":"2006-01-01","v":760},{"d":"2006-01-15","v":720},{"d":"2006-02-01","v":740},{"d":"2006-02-15","v":770},{"d":"2006-03-01","v":720},{"d":"2006-03-15","v":760},{"d":"2006-04-01","v":640},{"d":"2006-04-15","v":610},{"d":"2006-05-01","v":630},{"d":"2006-05-10","v":750},{"d":"2006-05-20","v":790},{"d":"2006-06-01","v":780},{"d":"2006-06-10","v":1060},{"d":"2006-06-20","v":1120},{"d":"2006-07-01","v":1220},{"d":"2006-07-10","v":1100},{"d":"2006-07-20","v":1070},{"d":"2006-08-01","v":1050},{"d":"2006-08-15","v":1000},{"d":"2006-09-01","v":880},{"d":"2006-09-15","v":850},{"d":"2006-10-01","v":830},{"d":"2006-10-15","v":870},{"d":"2006-11-01","v":890},{"d":"2006-11-15","v":840},{"d":"2006-12-01","v":860},{"d":"2006-12-15","v":820},
{"d":"2007-01-01","v":880},{"d":"2007-01-10","v":1050},{"d":"2007-01-20","v":1100},{"d":"2007-02-01","v":1180},{"d":"2007-02-10","v":1200},{"d":"2007-02-20","v":1230},{"d":"2007-03-01","v":1330},{"d":"2007-03-08","v":1420},{"d":"2007-03-15","v":1470},{"d":"2007-03-22","v":1380},{"d":"2007-04-01","v":1200},{"d":"2007-04-10","v":1180},{"d":"2007-04-20","v":1230},{"d":"2007-05-01","v":1200},{"d":"2007-05-10","v":1150},{"d":"2007-05-20","v":1220},{"d":"2007-06-01","v":1180},{"d":"2007-06-10","v":1120},{"d":"2007-06-20","v":1160},{"d":"2007-07-01","v":1100},{"d":"2007-07-10","v":1060},{"d":"2007-07-20","v":1040},{"d":"2007-08-01","v":1150},{"d":"2007-08-10","v":1090},{"d":"2007-08-20","v":1010},{"d":"2007-09-01","v":980},{"d":"2007-09-10","v":1000},{"d":"2007-09-20","v":900},{"d":"2007-10-01","v":880},{"d":"2007-10-10","v":1060},{"d":"2007-10-20","v":1080},{"d":"2007-11-01","v":1020},{"d":"2007-11-10","v":860},{"d":"2007-11-20","v":830},{"d":"2007-12-01","v":850},{"d":"2007-12-15","v":810},
{"d":"2008-01-01","v":790},{"d":"2008-01-10","v":840},{"d":"2008-01-20","v":760},{"d":"2008-02-01","v":820},{"d":"2008-02-10","v":740},{"d":"2008-02-20","v":850},{"d":"2008-03-01","v":960},{"d":"2008-03-10","v":1080},{"d":"2008-03-20","v":1000},{"d":"2008-04-01","v":880},{"d":"2008-04-10","v":820},{"d":"2008-04-20","v":860},{"d":"2008-05-01","v":780},{"d":"2008-05-10","v":700},{"d":"2008-05-20","v":660},{"d":"2008-06-01","v":640},{"d":"2008-06-10","v":690},{"d":"2008-06-20","v":620},{"d":"2008-07-01","v":600},{"d":"2008-07-10","v":580},{"d":"2008-07-20","v":610},{"d":"2008-08-01","v":570},{"d":"2008-08-15","v":620},{"d":"2008-09-01","v":560},{"d":"2008-09-15","v":590},{"d":"2008-10-01","v":550},{"d":"2008-10-15","v":600},{"d":"2008-11-01","v":580},{"d":"2008-11-15","v":540},{"d":"2008-12-01","v":470},{"d":"2008-12-15","v":560},
{"d":"2009-01-01","v":600},{"d":"2009-01-15","v":570},{"d":"2009-02-01","v":480},{"d":"2009-02-15","v":430},{"d":"2009-03-01","v":360},{"d":"2009-03-15","v":330},{"d":"2009-04-01","v":340},{"d":"2009-04-15","v":310},{"d":"2009-05-01","v":350},{"d":"2009-05-15","v":320},{"d":"2009-06-01","v":330},{"d":"2009-06-15","v":300},{"d":"2009-07-01","v":290},{"d":"2009-07-15","v":280},{"d":"2009-08-01","v":300},{"d":"2009-08-15","v":275},{"d":"2009-09-01","v":290},{"d":"2009-09-15","v":300},{"d":"2009-10-01","v":400},{"d":"2009-10-15","v":430},{"d":"2009-11-01","v":420},{"d":"2009-11-15","v":390},{"d":"2009-12-01","v":410},{"d":"2009-12-15","v":380},
{"d":"2010-01-01","v":400},{"d":"2010-01-15","v":370},{"d":"2010-02-01","v":380},{"d":"2010-02-15","v":365},{"d":"2010-03-01","v":360},{"d":"2010-03-15","v":385},{"d":"2010-04-01","v":370},{"d":"2010-04-15","v":350},{"d":"2010-05-01","v":340},{"d":"2010-05-15","v":360},{"d":"2010-06-01","v":355},{"d":"2010-06-15","v":340},{"d":"2010-07-01","v":330},{"d":"2010-07-15","v":360},{"d":"2010-08-01","v":345},{"d":"2010-08-15","v":370},{"d":"2010-09-01","v":350},{"d":"2010-09-15","v":330},{"d":"2010-10-01","v":380},{"d":"2010-10-15","v":350},{"d":"2010-11-01","v":390},{"d":"2010-11-15","v":280},{"d":"2010-12-01","v":250},{"d":"2010-12-15","v":240},
{"d":"2011-01-01","v":230},{"d":"2011-01-15","v":200},{"d":"2011-02-01","v":190},{"d":"2011-02-15","v":220},{"d":"2011-03-01","v":210},{"d":"2011-03-15","v":180},{"d":"2011-04-01","v":260},{"d":"2011-04-15","v":300},{"d":"2011-05-01","v":320},{"d":"2011-05-15","v":330},{"d":"2011-06-01","v":335},{"d":"2011-06-15","v":320},{"d":"2011-07-01","v":300},{"d":"2011-07-15","v":270},{"d":"2011-08-01","v":260},{"d":"2011-08-15","v":290},{"d":"2011-09-01","v":300},{"d":"2011-09-15","v":250},{"d":"2011-10-01","v":330},{"d":"2011-10-15","v":350},{"d":"2011-11-01","v":370},{"d":"2011-11-15","v":410},{"d":"2011-12-01","v":380},{"d":"2011-12-15","v":340},
{"d":"2012-01-01","v":320},{"d":"2012-01-15","v":230},{"d":"2012-02-01","v":200},{"d":"2012-02-15","v":180},{"d":"2012-03-01","v":170},{"d":"2012-03-15","v":150},{"d":"2012-04-01","v":140},{"d":"2012-04-15","v":110},{"d":"2012-05-01","v":105},{"d":"2012-05-15","v":130},{"d":"2012-06-01","v":120},{"d":"2012-06-15","v":140},{"d":"2012-07-01","v":125},{"d":"2012-07-15","v":135},{"d":"2012-08-01","v":120},{"d":"2012-08-15","v":145},{"d":"2012-09-01","v":160},{"d":"2012-09-15","v":190},{"d":"2012-10-01","v":200},{"d":"2012-10-15","v":180},{"d":"2012-11-01","v":210},{"d":"2012-11-15","v":230},{"d":"2012-12-01","v":240},{"d":"2012-12-15","v":250},
{"d":"2013-01-01","v":235},{"d":"2013-01-15","v":250},{"d":"2013-02-01","v":240},{"d":"2013-02-15","v":255},{"d":"2013-03-01","v":265},{"d":"2013-03-15","v":270},{"d":"2013-04-01","v":230},{"d":"2013-04-10","v":180},{"d":"2013-04-20","v":195},{"d":"2013-05-01","v":210},{"d":"2013-05-15","v":215},{"d":"2013-06-01","v":205},{"d":"2013-06-15","v":218},{"d":"2013-07-01","v":195},{"d":"2013-07-15","v":180},{"d":"2013-08-01","v":190},{"d":"2013-08-15","v":170},{"d":"2013-09-01","v":185},{"d":"2013-09-15","v":175},{"d":"2013-10-01","v":195},{"d":"2013-10-15","v":180},{"d":"2013-11-01","v":190},{"d":"2013-11-15","v":175},{"d":"2013-12-01","v":180},{"d":"2013-12-15","v":160},
{"d":"2014-01-01","v":150},{"d":"2014-01-15","v":130},{"d":"2014-02-01","v":140},{"d":"2014-02-15","v":120},{"d":"2014-03-01","v":100},{"d":"2014-03-15","v":95},{"d":"2014-04-01","v":85},{"d":"2014-04-15","v":80},{"d":"2014-05-01","v":75},{"d":"2014-05-15","v":65},{"d":"2014-06-01","v":55},{"d":"2014-06-15","v":50},{"d":"2014-07-01","v":45},{"d":"2014-07-15","v":35},{"d":"2014-08-01","v":30},{"d":"2014-08-15","v":20},{"d":"2014-09-01","v":12},{"d":"2014-09-15","v":5},{"d":"2014-10-01","v":-5},{"d":"2014-10-15","v":-10},{"d":"2014-11-01","v":-15},{"d":"2014-11-15","v":-25},{"d":"2014-12-01","v":-30},{"d":"2014-12-15","v":-35},
{"d":"2015-01-01","v":-42},{"d":"2015-01-15","v":-50},{"d":"2015-02-01","v":-55},{"d":"2015-02-15","v":-60},{"d":"2015-03-01","v":-62},{"d":"2015-03-15","v":-58},{"d":"2015-04-01","v":-55},{"d":"2015-04-15","v":-52},{"d":"2015-05-01","v":-56},{"d":"2015-05-15","v":-50},{"d":"2015-06-01","v":-53},{"d":"2015-06-15","v":-48},{"d":"2015-07-01","v":-55},{"d":"2015-07-15","v":-50},{"d":"2015-08-01","v":-52},{"d":"2015-08-15","v":-56},{"d":"2015-09-01","v":-50},{"d":"2015-09-15","v":-54},{"d":"2015-10-01","v":-52},{"d":"2015-10-15","v":-56},{"d":"2015-11-01","v":-55},{"d":"2015-11-15","v":-58},{"d":"2015-12-01","v":-52},{"d":"2015-12-15","v":-56},
{"d":"2016-01-01","v":-55},{"d":"2016-01-15","v":-52},{"d":"2016-02-01","v":-56},{"d":"2016-02-15","v":-54},{"d":"2016-03-01","v":-50},{"d":"2016-03-15","v":-52},{"d":"2016-04-01","v":-45},{"d":"2016-04-15","v":-40},{"d":"2016-05-01","v":-38},{"d":"2016-05-15","v":-45},{"d":"2016-06-01","v":-52},{"d":"2016-06-15","v":-55},{"d":"2016-07-01","v":-58},
{"d":"2016-07-15","v":0},{"d":"2016-08-01","v":0},{"d":"2016-08-15","v":0},{"d":"2016-09-01","v":0},{"d":"2016-09-15","v":0},{"d":"2016-10-01","v":0},{"d":"2016-10-15","v":0},{"d":"2016-11-01","v":0},{"d":"2016-11-15","v":0},{"d":"2016-12-01","v":0},{"d":"2016-12-15","v":0},
{"d":"2017-01-01","v":0},{"d":"2017-01-15","v":0},{"d":"2017-02-01","v":0},{"d":"2017-02-15","v":0},{"d":"2017-03-01","v":0},{"d":"2017-03-15","v":0},{"d":"2017-04-01","v":0},{"d":"2017-04-15","v":0},{"d":"2017-05-01","v":0},{"d":"2017-05-15","v":0},{"d":"2017-06-01","v":0},{"d":"2017-06-15","v":0},{"d":"2017-07-01","v":0},{"d":"2017-07-15","v":0},{"d":"2017-08-01","v":0},{"d":"2017-08-15","v":0},{"d":"2017-09-01","v":0},{"d":"2017-09-15","v":0},{"d":"2017-10-01","v":0},{"d":"2017-10-15","v":0},{"d":"2017-11-01","v":0},{"d":"2017-11-15","v":0},{"d":"2017-12-01","v":0},{"d":"2017-12-15","v":0},
{"d":"2018-01-01","v":0},{"d":"2018-01-15","v":0},{"d":"2018-02-01","v":0},{"d":"2018-02-15","v":0},{"d":"2018-03-01","v":0},{"d":"2018-03-15","v":0},{"d":"2018-04-01","v":0},{"d":"2018-04-15","v":0},{"d":"2018-05-01","v":0},{"d":"2018-05-15","v":0},{"d":"2018-06-01","v":0},{"d":"2018-06-15","v":0},{"d":"2018-07-01","v":0},{"d":"2018-07-15","v":0},{"d":"2018-08-01","v":0},{"d":"2018-08-15","v":0},{"d":"2018-09-01","v":0},{"d":"2018-09-15","v":0},{"d":"2018-10-01","v":0},{"d":"2018-10-15","v":0},{"d":"2018-11-01","v":0},{"d":"2018-11-15","v":0},{"d":"2018-12-01","v":0},{"d":"2018-12-15","v":0},
{"d":"2019-01-01","v":0},{"d":"2019-01-15","v":0},{"d":"2019-02-01","v":0},{"d":"2019-02-15","v":0},{"d":"2019-03-01","v":0},{"d":"2019-03-15","v":0},{"d":"2019-04-01","v":0},{"d":"2019-04-15","v":0},{"d":"2019-05-01","v":0},{"d":"2019-05-15","v":0},{"d":"2019-06-01","v":0},{"d":"2019-06-15","v":0},{"d":"2019-07-01","v":0},{"d":"2019-07-15","v":0},{"d":"2019-08-01","v":0},{"d":"2019-08-15","v":0},{"d":"2019-09-01","v":0},{"d":"2019-09-15","v":0},{"d":"2019-10-01","v":0},{"d":"2019-10-15","v":0},{"d":"2019-11-01","v":0},{"d":"2019-11-15","v":0},{"d":"2019-12-01","v":0},{"d":"2019-12-15","v":0},
{"d":"2020-01-01","v":0},{"d":"2020-01-15","v":0},{"d":"2020-02-01","v":0},{"d":"2020-02-15","v":0},{"d":"2020-03-01","v":0},{"d":"2020-03-15","v":0},{"d":"2020-04-01","v":0},{"d":"2020-04-15","v":0},{"d":"2020-05-01","v":0},{"d":"2020-05-15","v":0},{"d":"2020-06-01","v":0},{"d":"2020-06-15","v":0},{"d":"2020-07-01","v":0},{"d":"2020-07-15","v":0},{"d":"2020-08-01","v":0},{"d":"2020-08-15","v":0},{"d":"2020-09-01","v":0},{"d":"2020-09-15","v":0},{"d":"2020-10-01","v":0},{"d":"2020-10-15","v":0},{"d":"2020-11-01","v":0},{"d":"2020-11-15","v":0},{"d":"2020-12-01","v":0},{"d":"2020-12-15","v":0},
{"d":"2021-01-01","v":0},{"d":"2021-01-15","v":0},{"d":"2021-02-01","v":0},{"d":"2021-02-15","v":0},{"d":"2021-03-01","v":0},{"d":"2021-03-15","v":0},{"d":"2021-04-01","v":0},{"d":"2021-04-15","v":0},{"d":"2021-05-01","v":0},{"d":"2021-05-15","v":0},{"d":"2021-06-01","v":0},{"d":"2021-06-15","v":0},{"d":"2021-07-01","v":0},{"d":"2021-07-15","v":0},{"d":"2021-08-01","v":0},{"d":"2021-08-15","v":0},{"d":"2021-09-01","v":0},{"d":"2021-09-15","v":0},{"d":"2021-10-01","v":0},{"d":"2021-10-15","v":0},{"d":"2021-11-01","v":0},{"d":"2021-11-15","v":0},{"d":"2021-12-01","v":0},{"d":"2021-12-15","v":0},
{"d":"2022-01-01","v":0},{"d":"2022-01-15","v":0},{"d":"2022-02-01","v":0},{"d":"2022-02-15","v":0},{"d":"2022-03-01","v":0},{"d":"2022-03-15","v":0},{"d":"2022-04-01","v":0},{"d":"2022-04-15","v":0},{"d":"2022-05-01","v":0},{"d":"2022-05-15","v":0},{"d":"2022-06-01","v":0},{"d":"2022-06-15","v":0},{"d":"2022-07-01","v":0},{"d":"2022-07-15","v":0},{"d":"2022-08-01","v":0},{"d":"2022-08-15","v":0},{"d":"2022-09-01","v":0},{"d":"2022-09-15","v":0},{"d":"2022-10-01","v":0},{"d":"2022-10-15","v":0},{"d":"2022-11-01","v":0},{"d":"2022-11-15","v":0},{"d":"2022-12-01","v":0},{"d":"2022-12-15","v":0},{"d":"2023-01-01","v":0}
]
},
"concat":[
{
"width":2216,"height":53,
"view":{"fill":"#80C77F","stroke":"#CFCFCF","strokeWidth":2},
"data":{"values":[{"t":"ADAM Informe. Evolution historique des performances en euros pour des détentions de 4 ans (A04) à 10 ans (A10) avec les revenus connus capitalisés"}]},
"mark":{"type":"text","font":"Lato","fontSize":31.2,"fontWeight":"bold","color":"#000000","dx":-36,"baseline":"middle"},
"encoding":{"text":{"field":"t","type":"nominal"}}
},
{
"width":2141,"height":933,
"title":{"text":["Performance par rapport à l'indice EU STOXX 600 GROSS TR  du placement Skyworks Solutions Inc en fonction de la date de début pour des durées","entre 4 (A04) et 10 ans (A10). Cotations entre janv. 1997 et juil. 2026. Revenus CAPITALISES depuis mai. 2014."],"anchor":"middle","offset":-59,"font":"Lato","fontSize":26.5,"fontWeight":"normal","color":"#595959","lineHeight":37,"dx":33},
"layer":[
{"data":{"name":"hg"},
"mark":{"type":"rule","color":"#D9D9D9","strokeWidth":1.5},
"encoding":{
"y":{"field":"y","type":"quantitative","scale":{"domain":[-200,1600],"nice":false,"zero":false},
"axis":{"title":null,"values":[-200,0,200,400,600,800,1000,1200,1400,1600],"labelExpr":"datum.value < 0 ? '- ' + format(-datum.value,'d') + '%' : (datum.value >= 1000 ? floor(datum.value/1000) + ' ' + format(datum.value % 1000,'03d') + '%' : datum.value + '%')","grid":false,"domain":true,"domainColor":"#D9D9D9","domainWidth":1.5,"ticks":false,"labelPadding":18,"offset":-97,"minExtent":0,"labelFont":"Lato","labelFontSize":20,"labelColor":"#595959"}},
"x":{"datum":{"year":1997,"month":1,"date":1,"utc":true},"type":"temporal","scale":{"type":"utc","domain":[{"year":1997,"month":1,"date":1,"utc":true},{"year":2023,"month":1,"date":1,"utc":true}],"range":[97,2141]},
"axis":{"title":null,"format":"%d/%m/%Y","values":[{"year":1997,"month":1,"date":1,"utc":true},{"year":1999,"month":1,"date":1,"utc":true},{"year":2001,"month":1,"date":1,"utc":true},{"year":2003,"month":1,"date":1,"utc":true},{"year":2005,"month":1,"date":1,"utc":true},{"year":2007,"month":1,"date":1,"utc":true},{"year":2009,"month":1,"date":1,"utc":true},{"year":2011,"month":1,"date":1,"utc":true},{"year":2013,"month":1,"date":1,"utc":true},{"year":2015,"month":1,"date":1,"utc":true},{"year":2017,"month":1,"date":1,"utc":true},{"year":2019,"month":1,"date":1,"utc":true},{"year":2021,"month":1,"date":1,"utc":true}],"grid":false,"domain":false,"ticks":false,"labelPadding":25,"labelFont":"Lato","labelFontSize":20,"labelColor":"#595959","labelOverlap":false,"labelFlush":false}},
"x2":{"datum":{"year":2023,"month":1,"date":1,"utc":true}}}},
{"data":{"name":"vg"},
"mark":{"type":"rule","color":"#D9D9D9","strokeWidth":1.5},
"encoding":{"x":{"field":"g","type":"temporal"},"y":{"datum":-200,"type":"quantitative"},"y2":{"datum":1475}}},
{"data":{"values":[{}]},"mark":{"type":"rule","color":"#BFBFBF","strokeWidth":2},"encoding":{"y":{"datum":100,"type":"quantitative"},"x":{"datum":{"year":1997,"month":1,"date":1,"utc":true},"type":"temporal"},"x2":{"datum":{"year":2023,"month":1,"date":1,"utc":true}}}},
{"data":{"values":[{}]},"mark":{"type":"rule","color":"#000000","strokeWidth":5},"encoding":{"y":{"datum":0,"type":"quantitative"},"x":{"datum":{"year":1997,"month":1,"date":1,"utc":true},"type":"temporal"},"x2":{"datum":{"year":2023,"month":1,"date":1,"utc":true}}}},
{"data":{"name":"a04"},
"mark":{"type":"point","filled":false,"size":190,"strokeWidth":2.6,"opacity":1},
"encoding":{"x":{"field":"d","type":"temporal"},"y":{"field":"v","type":"quantitative"},
"color":{"datum":"Rendement_A04","type":"nominal","scale":{"domain":["Rendement_A04","Rendement_A07","Rendement_A10","0,0%"],"range":["#FFC000","#0070C0","#FF0000","#000000"]},
"legend":{"title":null,"orient":"none","legendX":1796,"legendY":157,"fillColor":"#FFFFFF","padding":57,"labelFont":"Lato","labelFontSize":27.5,"labelColor":"#595959","labelLimit":600,"symbolSize":64,"symbolStrokeWidth":2,"labelOffset":16,"rowPadding":34.5}},
"shape":{"datum":"Rendement_A04","type":"nominal","scale":{"domain":["Rendement_A04","Rendement_A07","Rendement_A10","0,0%"],"range":["M-1,0H1M0,-1V1","M-1,0H1M0,-1V1","M-1,0H1M0,-1V1","M-6,-0.3H6V0.3H-6Z"]}}}},
{"data":{"name":"a07"},
"mark":{"type":"point","filled":false,"size":190,"strokeWidth":2.6,"opacity":1},
"encoding":{"x":{"field":"d","type":"temporal"},"y":{"field":"v","type":"quantitative"},"color":{"datum":"Rendement_A07","type":"nominal"},"shape":{"datum":"Rendement_A07","type":"nominal"}}},
{"data":{"name":"a10"},
"mark":{"type":"point","filled":false,"size":190,"strokeWidth":2.6,"opacity":1},
"encoding":{"x":{"field":"d","type":"temporal"},"y":{"field":"v","type":"quantitative"},"color":{"datum":"Rendement_A10","type":"nominal"},"shape":{"datum":"Rendement_A10","type":"nominal"}}}
]
}
],
"columns":1,
"align":"none",
"spacing":37
}
